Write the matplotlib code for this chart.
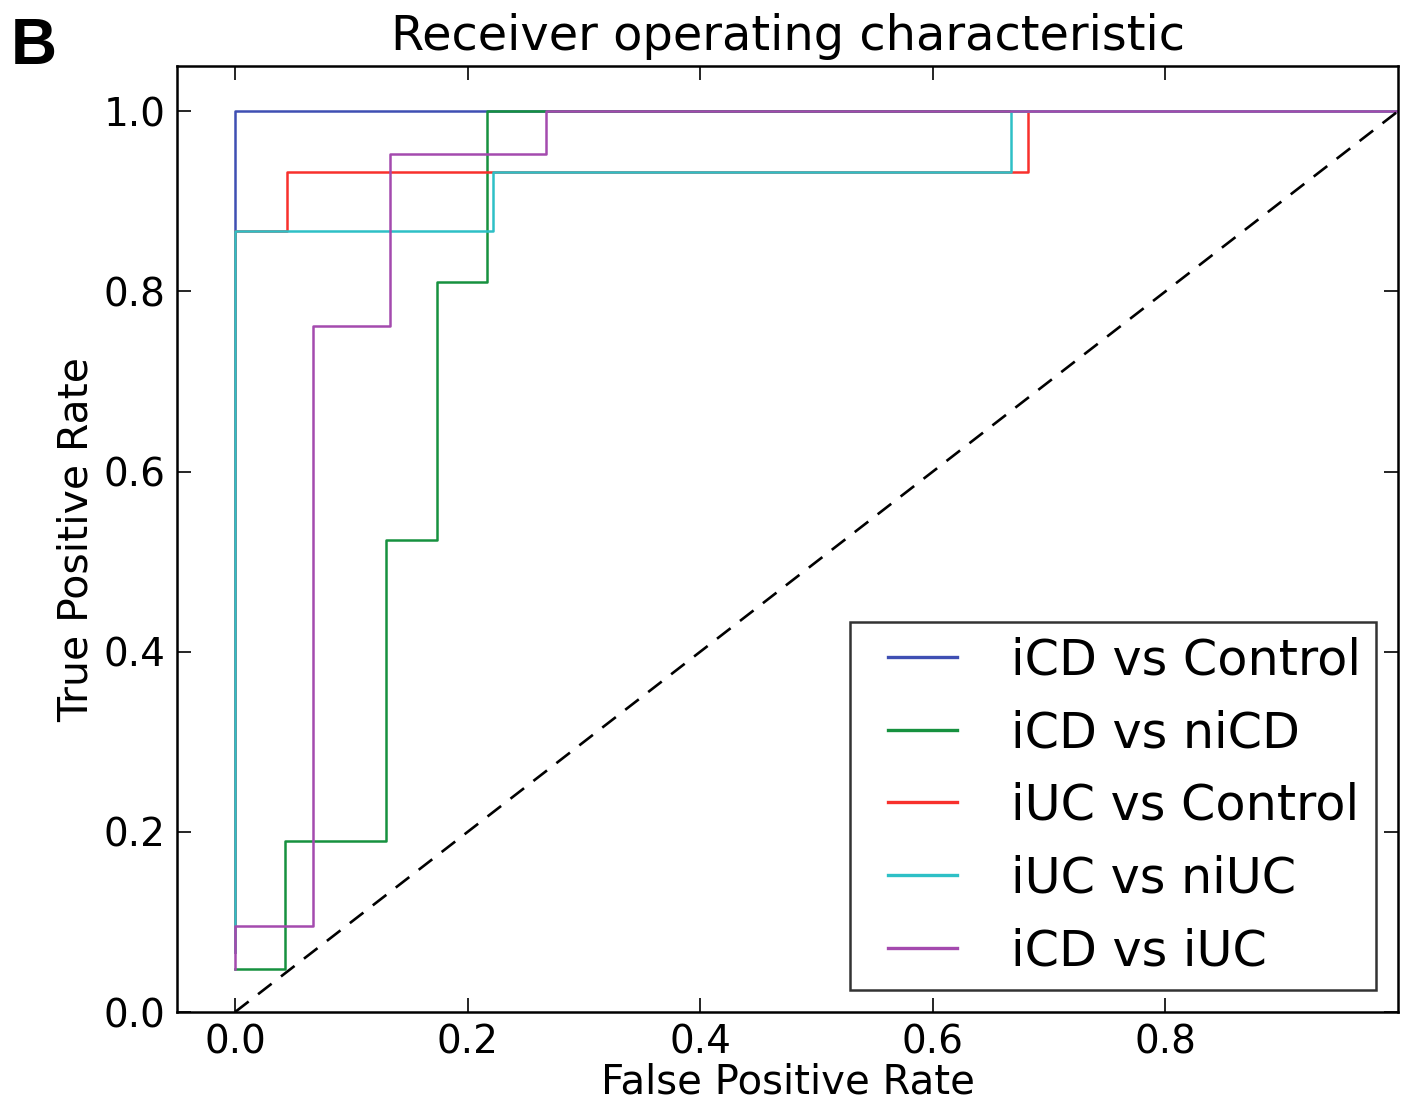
import matplotlib
matplotlib.use("Agg")
import matplotlib.pyplot as plt
from matplotlib.legend_handler import HandlerLine2D

# ROC curves (false positive rate, true positive rate) for each comparison
labels = ["iCD vs Control", "iCD vs niCD", "iUC vs Control", "iUC vs niUC", "iCD vs iUC"]

fpr_icd_control = [0.0, 0.0, 1.0]
tpr_icd_control = [0.067, 1.0, 1.0]

fpr_icd_nicd = [0.0, 0.043, 0.043, 0.130, 0.130, 0.174, 0.174, 0.217, 0.217, 1.0]
tpr_icd_nicd = [0.048, 0.048, 0.190, 0.190, 0.524, 0.524, 0.810, 0.810, 1.0, 1.0]

fpr_iuc_control = [0.0, 0.0, 0.045, 0.045, 0.682, 0.682, 1.0]
tpr_iuc_control = [0.067, 0.867, 0.867, 0.933, 0.933, 1.0, 1.0]

fpr_iuc_niuc = [0.0, 0.0, 0.222, 0.222, 0.667, 0.667, 1.0]
tpr_iuc_niuc = [0.067, 0.867, 0.867, 0.933, 0.933, 1.0, 1.0]

fpr_icd_iuc = [0.0, 0.0, 0.067, 0.067, 0.133, 0.133, 0.267, 0.267, 1.0]
tpr_icd_iuc = [0.048, 0.095, 0.095, 0.762, 0.762, 0.952, 0.952, 1.0, 1.0]

curves = [
    (fpr_icd_control, tpr_icd_control),
    (fpr_icd_nicd, tpr_icd_nicd),
    (fpr_iuc_control, tpr_iuc_control),
    (fpr_iuc_niuc, tpr_iuc_niuc),
    (fpr_icd_iuc, tpr_icd_iuc),
]
colors = ["#3f4fb3", "#16913f", "#f8302c", "#2ec0c6", "#a44aae"]

x_ticks = [0.0, 0.2, 0.4, 0.6, 0.8]
y_ticks = [0.0, 0.2, 0.4, 0.6, 0.8, 1.0]

plt.rcParams["font.family"] = "DejaVu Sans"

fig = plt.figure(figsize=(14.01, 11.03), dpi=100)
ax = fig.add_axes([0.1263, 0.0825, 0.8716, 0.8575])

for (fpr, tpr), lab, col in zip(curves, labels, colors):
    ax.plot(fpr, tpr, color=col, lw=1.8, label=lab)
ax.plot([0, 1], [0, 1], "k--", lw=1.9, dashes=(6.5, 4.5))

ax.set_xlim(-0.05, 1.0)
ax.set_ylim(0.0, 1.05)
ax.set_xticks(x_ticks)
ax.set_yticks(y_ticks)
ax.set_xticklabels([f"{t:.1f}" for t in x_ticks])
ax.set_yticklabels([f"{t:.1f}" for t in y_ticks])
ax.tick_params(direction="in", length=10, width=1.2, labelsize=28,
               top=True, right=True)
ax.tick_params(axis="x", pad=8)
ax.tick_params(axis="y", pad=8)
for sp in ax.spines.values():
    sp.set_linewidth(1.8)

ax.set_xlabel("False Positive Rate", fontsize=29, labelpad=1)
ax.set_ylabel("True Positive Rate", fontsize=29.5, labelpad=5)
ax.set_title("Receiver operating characteristic", fontsize=34.5, pad=12)

# legend handles sit a little inset from the left edge of the frame
inset = 0.47
leg = ax.legend(loc="lower right", fontsize=35.5, frameon=True, fancybox=False,
                handlelength=1.4 + inset, handletextpad=1.1, labelspacing=0.5,
                borderpad=0.3, borderaxespad=0.45,
                handler_map={matplotlib.lines.Line2D: HandlerLine2D(xpad=inset)})
leg.get_frame().set_edgecolor("black")
leg.get_frame().set_linewidth(1.8)
for line in leg.get_lines():
    line.set_linewidth(2.4)

fig.text(0.008, 0.985, "B", fontsize=46, fontweight="bold",
         family="Liberation Sans", va="top", ha="left")

fig.savefig("out.png", dpi=100, facecolor="white")
